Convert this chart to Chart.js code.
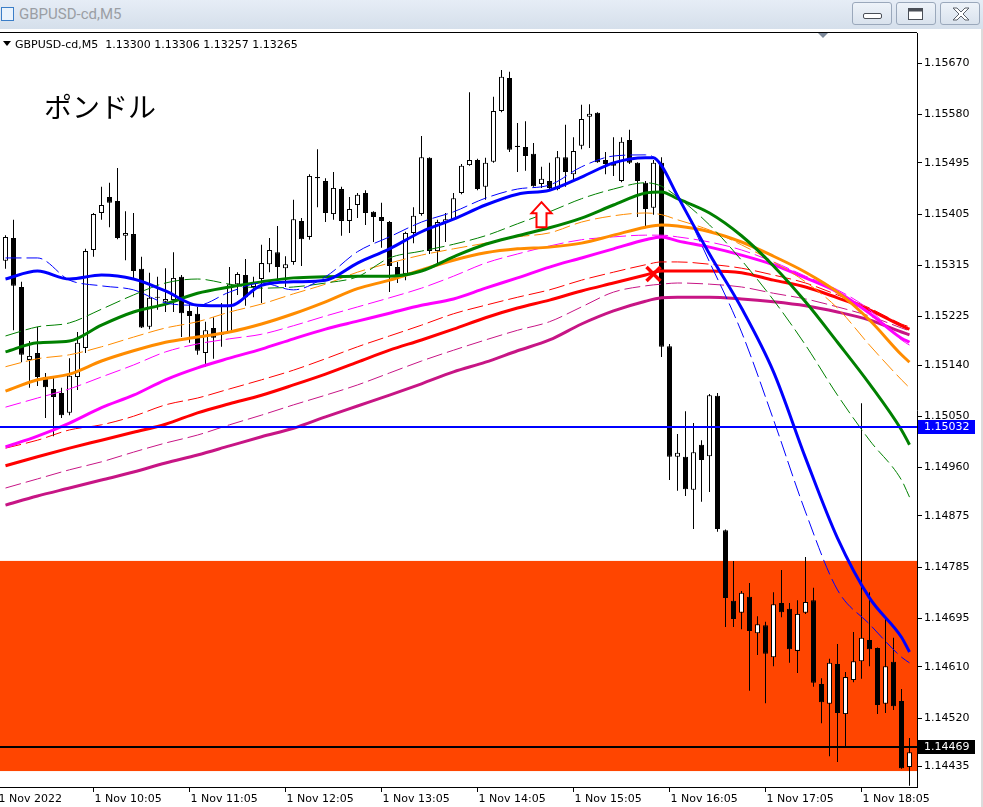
<!DOCTYPE html>
<html>
<head>
<meta charset="utf-8">
<script src="https://cdn.jsdelivr.net/npm/chart.js@4.4.0/dist/chart.umd.min.js"></script>
<style>
  body { margin: 0; width: 983px; height: 807px; overflow: hidden; background: #fff; position: relative; font-family: "DejaVu Sans", sans-serif; }
  #titlebar { position: absolute; left: 0; top: 0; width: 983px; height: 29px; background: linear-gradient(#e6edf6, #d5dfeb); }
  #appicon { position: absolute; left: 1px; top: 7px; width: 11px; height: 12px; border: 1px solid #3b7ec8; background: #eaf3fc; }
  #title { position: absolute; left: 19px; top: 5px; font: 15px Roboto, sans-serif; color: #9a9ea4; }
  .btn { position: absolute; top: 2px; width: 40px; height: 23px; border: 1px solid #9aa8bb; border-radius: 3px; background: linear-gradient(#eef3f9, #d9e2ed); box-sizing: border-box; }
  .btn svg { position: absolute; left: 0; top: 0; }
  #chartbox { position: absolute; left: 0; top: 32px; width: 983px; height: 775px; }
  #header { position: absolute; left: 15px; top: 38px; font: 11px "DejaVu Sans", sans-serif; color: #000; white-space: pre; z-index: 2; }
  #hdrtri { position: absolute; left: 3px; top: 41px; width: 0; height: 0; border-left: 4px solid transparent; border-right: 4px solid transparent; border-top: 5px solid #000; z-index: 2; }
  #shifttri { position: absolute; left: 818px; top: 33px; width: 0; height: 0; border-left: 5px solid transparent; border-right: 5px solid transparent; border-top: 5px solid #7d8a9b; z-index: 2; }
  #note { position: absolute; left: 44px; top: 86px; font: 28px "Noto Sans CJK JP", sans-serif; color: #000; z-index: 2; }
  #edge { position: absolute; left: 981px; top: 29px; width: 2px; height: 778px; background: #dcdcdc; z-index: 2; }
</style>
</head>
<body>
<div id="titlebar">
  <div id="appicon"></div>
  <span id="title">GBPUSD-cd,M5</span>
  <div class="btn" style="left:852px"><svg width="40" height="23"><rect x="10.5" y="10.5" width="18" height="5" rx="1.5" fill="#fff" stroke="#4a4f57"/></svg></div>
  <div class="btn" style="left:896px"><svg width="40" height="23"><rect x="11.5" y="5.5" width="14" height="11" fill="#fff" stroke="#4a4f57"/><rect x="11.5" y="5.5" width="14" height="3" fill="#4a4f57"/></svg></div>
  <div class="btn" style="left:940px"><svg width="40" height="23"><path d="M12 5 L16 5 L20 9 L24 5 L28 5 L22 11 L28 17 L24 17 L20 13 L16 17 L12 17 L18 11 Z" fill="#fff" stroke="#5a6069" stroke-width="1"/></svg></div>
</div>
<div id="edge"></div>
<div id="hdrtri"></div>
<div id="header">GBPUSD-cd,M5  1.13300 1.13306 1.13257 1.13265</div>
<div id="shifttri"></div>
<div id="note">ポンドル</div>
<div id="chartbox"><canvas id="chart"></canvas></div>

<script>
// Candles (5 min bars, index 0 = 1 Nov 09:10)
const candleOpen = [
  1.15323, 1.15363, 1.15277, 1.15149, 1.15161, 1.15119, 1.15098, 1.15091, 1.15056, 1.15119,
  1.15170, 1.15342, 1.15407, 1.15435, 1.15428, 1.15367, 1.15370, 1.15309, 1.15207, 1.15260,
  1.15251, 1.15254, 1.15295, 1.15235, 1.15230, 1.15161, 1.15205, 1.15193, 1.15198, 1.15282,
  1.15298, 1.15277, 1.15291, 1.15317, 1.15338, 1.15310, 1.15321, 1.15393, 1.15365, 1.15470,
  1.15463, 1.15405, 1.15449, 1.15393, 1.15421, 1.15442, 1.15409, 1.15400, 1.15391, 1.15312,
  1.15300, 1.15372, 1.15405, 1.15504, 1.15340, 1.15391, 1.15396, 1.15442, 1.15491, 1.15500,
  1.15453, 1.15497, 1.15586, 1.15644, 1.15525, 1.15523, 1.15511, 1.15458, 1.15463, 1.15449,
  1.15505, 1.15475, 1.15525, 1.15576, 1.15583, 1.15500, 1.15495, 1.15463, 1.15535, 1.15495,
  1.15460, 1.15416, 1.15495, 1.15173, 1.14979, 1.14979, 1.14921, 1.15000, 1.14980, 1.15086,
  1.14850, 1.14726, 1.14705, 1.14733, 1.14669, 1.14683, 1.14627, 1.14722, 1.14712, 1.14638,
  1.14705, 1.14727, 1.14580, 1.14545, 1.14615, 1.14527, 1.14587, 1.14620, 1.14657, 1.14643,
  1.14545, 1.14619, 1.14550, 1.14434
];
const candleHigh = [
  1.15368, 1.15395, 1.15286, 1.15182, 1.15207, 1.15126, 1.15117, 1.15100, 1.15152, 1.15198,
  1.15344, 1.15407, 1.15453, 1.15460, 1.15486, 1.15410, 1.15407, 1.15330, 1.15302, 1.15295,
  1.15310, 1.15338, 1.15298, 1.15249, 1.15242, 1.15216, 1.15224, 1.15249, 1.15312, 1.15303,
  1.15326, 1.15295, 1.15351, 1.15363, 1.15384, 1.15331, 1.15430, 1.15398, 1.15475, 1.15519,
  1.15468, 1.15479, 1.15453, 1.15435, 1.15442, 1.15447, 1.15410, 1.15425, 1.15393, 1.15321,
  1.15374, 1.15417, 1.15542, 1.15505, 1.15395, 1.15407, 1.15442, 1.15493, 1.15619, 1.15502,
  1.15504, 1.15611, 1.15658, 1.15655, 1.15565, 1.15568, 1.15530, 1.15488, 1.15495, 1.15516,
  1.15562, 1.15540, 1.15597, 1.15598, 1.15584, 1.15514, 1.15540, 1.15540, 1.15553, 1.15496,
  1.15463, 1.15500, 1.15505, 1.15177, 1.15019, 1.15059, 1.15038, 1.15008, 1.15089, 1.15091,
  1.14851, 1.14796, 1.14743, 1.14757, 1.14699, 1.14689, 1.14741, 1.14780, 1.14722, 1.14727,
  1.14803, 1.14749, 1.14590, 1.14624, 1.14650, 1.14601, 1.14671, 1.15073, 1.14741, 1.14644,
  1.14699, 1.14661, 1.14571, 1.14485
];
const candleLow = [
  1.15309, 1.15201, 1.15145, 1.15100, 1.15103, 1.15047, 1.15015, 1.15047, 1.15052, 1.15096,
  1.15161, 1.15330, 1.15395, 1.15382, 1.15361, 1.15324, 1.15293, 1.15205, 1.15203, 1.15237,
  1.15233, 1.15233, 1.15189, 1.15179, 1.15158, 1.15137, 1.15151, 1.15172, 1.15196, 1.15263,
  1.15244, 1.15259, 1.15249, 1.15303, 1.15291, 1.15277, 1.15316, 1.15314, 1.15360, 1.15417,
  1.15391, 1.15395, 1.15367, 1.15372, 1.15398, 1.15386, 1.15356, 1.15346, 1.15268, 1.15284,
  1.15289, 1.15354, 1.15402, 1.15335, 1.15316, 1.15356, 1.15395, 1.15440, 1.15490, 1.15447,
  1.15430, 1.15495, 1.15584, 1.15514, 1.15479, 1.15481, 1.15453, 1.15451, 1.15449, 1.15447,
  1.15453, 1.15465, 1.15519, 1.15521, 1.15495, 1.15475, 1.15472, 1.15461, 1.15493, 1.15400,
  1.15382, 1.15404, 1.15154, 1.14938, 1.14919, 1.14910, 1.14852, 1.14900, 1.14917, 1.14847,
  1.14680, 1.14680, 1.14676, 1.14568, 1.14631, 1.14546, 1.14611, 1.14697, 1.14617, 1.14599,
  1.14703, 1.14575, 1.14511, 1.14453, 1.14443, 1.14471, 1.14583, 1.14589, 1.14611, 1.14527,
  1.14529, 1.14534, 1.14431, 1.14401
];
const candleClose = [
  1.15365, 1.15279, 1.15158, 1.15156, 1.15119, 1.15101, 1.15084, 1.15052, 1.15121, 1.15179,
  1.15340, 1.15405, 1.15421, 1.15425, 1.15363, 1.15372, 1.15305, 1.15206, 1.15258, 1.15258,
  1.15256, 1.15293, 1.15231, 1.15226, 1.15165, 1.15201, 1.15188, 1.15196, 1.15282, 1.15300,
  1.15259, 1.15286, 1.15319, 1.15342, 1.15312, 1.15317, 1.15396, 1.15361, 1.15472, 1.15468,
  1.15407, 1.15451, 1.15393, 1.15414, 1.15439, 1.15407, 1.15400, 1.15393, 1.15314, 1.15298,
  1.15372, 1.15402, 1.15505, 1.15340, 1.15391, 1.15396, 1.15433, 1.15490, 1.15500, 1.15449,
  1.15495, 1.15586, 1.15646, 1.15518, 1.15523, 1.15507, 1.15454, 1.15467, 1.15451, 1.15505,
  1.15479, 1.15516, 1.15572, 1.15581, 1.15496, 1.15493, 1.15490, 1.15532, 1.15495, 1.15463,
  1.15414, 1.15495, 1.15172, 1.14979, 1.14986, 1.14922, 1.14987, 1.14973, 1.15087, 1.14852,
  1.14731, 1.14694, 1.14740, 1.14673, 1.14685, 1.14633, 1.14720, 1.14706, 1.14641, 1.14703,
  1.14724, 1.14582, 1.14548, 1.14617, 1.14529, 1.14592, 1.14620, 1.14661, 1.14641, 1.14543,
  1.14611, 1.14541, 1.14432, 1.14460
];

// axis labels
const timeTickBars = [-1, 11, 23, 35, 47, 59, 71, 83, 95, 107];
const timeTickLabels = ['1 Nov 2022', '1 Nov 10:05', '1 Nov 11:05', '1 Nov 12:05', '1 Nov 13:05',
  '1 Nov 14:05', '1 Nov 15:05', '1 Nov 16:05', '1 Nov 17:05', '1 Nov 18:05'];
const priceTicks = [1.15670, 1.15580, 1.15495, 1.15405, 1.15315, 1.15225, 1.15140, 1.15050,
  1.14960, 1.14875, 1.14785, 1.14695, 1.14610, 1.14520, 1.14435];

// moving averages, read at these bars
const maBars = [0, 4, 8, 12, 16, 20, 24, 28, 32, 36, 40, 44, 48, 52, 56, 60, 64, 68, 72, 76,
  80, 82, 84, 88, 92, 96, 100, 104, 108, 112, 113];
const greenMA = [1.15163, 1.15179, 1.15182, 1.15210, 1.15233, 1.15247, 1.15266, 1.15277, 1.15286, 1.15293,
  1.15295, 1.15296, 1.15296, 1.15305, 1.15330, 1.15352, 1.15367, 1.15381, 1.15398, 1.15421,
  1.15442, 1.15444, 1.15432, 1.15407, 1.15367, 1.15314, 1.15251, 1.15180, 1.15107, 1.15026, 1.15000];
const greenMA2 = [1.15191, 1.15207, 1.15214, 1.15238, 1.15263, 1.15284, 1.15291, 1.15282, 1.15275, 1.15277,
  1.15284, 1.15295, 1.15328, 1.15340, 1.15352, 1.15367, 1.15388, 1.15409, 1.15432, 1.15449,
  1.15460, 1.15454, 1.15435, 1.15386, 1.15324, 1.15254, 1.15175, 1.15087, 1.15008, 1.14938, 1.14908];
const orangeMA = [1.15094, 1.15114, 1.15124, 1.15147, 1.15165, 1.15180, 1.15189, 1.15198, 1.15212, 1.15230,
  1.15251, 1.15274, 1.15289, 1.15307, 1.15324, 1.15337, 1.15344, 1.15347, 1.15354, 1.15368,
  1.15382, 1.15386, 1.15384, 1.15374, 1.15356, 1.15331, 1.15303, 1.15268, 1.15219, 1.15158, 1.15145];
const orangeMA2 = [1.15137, 1.15151, 1.15158, 1.15172, 1.15189, 1.15205, 1.15216, 1.15233, 1.15247, 1.15265,
  1.15282, 1.15303, 1.15319, 1.15333, 1.15344, 1.15354, 1.15365, 1.15372, 1.15391, 1.15402,
  1.15407, 1.15404, 1.15395, 1.15377, 1.15351, 1.15321, 1.15286, 1.15240, 1.15175, 1.15114, 1.15100];
const magentaMA = [1.14996, 1.15015, 1.15038, 1.15065, 1.15087, 1.15114, 1.15135, 1.15152, 1.15168, 1.15186,
  1.15203, 1.15217, 1.15231, 1.15245, 1.15256, 1.15275, 1.15293, 1.15312, 1.15328, 1.15344,
  1.15360, 1.15365, 1.15358, 1.15347, 1.15333, 1.15316, 1.15293, 1.15268, 1.15231, 1.15187, 1.15180];
const magentaMA2 = [1.15066, 1.15082, 1.15098, 1.15119, 1.15140, 1.15163, 1.15177, 1.15186, 1.15194, 1.15209,
  1.15226, 1.15242, 1.15258, 1.15275, 1.15296, 1.15319, 1.15335, 1.15349, 1.15360, 1.15365,
  1.15368, 1.15368, 1.15365, 1.15356, 1.15342, 1.15321, 1.15296, 1.15272, 1.15237, 1.15184, 1.15175];
const redMA = [1.14963, 1.14979, 1.14994, 1.15008, 1.15022, 1.15036, 1.15056, 1.15072, 1.15087, 1.15105,
  1.15124, 1.15145, 1.15166, 1.15184, 1.15203, 1.15223, 1.15240, 1.15254, 1.15270, 1.15284,
  1.15298, 1.15305, 1.15305, 1.15305, 1.15302, 1.15289, 1.15277, 1.15258, 1.15237, 1.15209, 1.15203];
const redMA2 = [1.14994, 1.15008, 1.15026, 1.15035, 1.15050, 1.15070, 1.15082, 1.15098, 1.15114, 1.15131,
  1.15151, 1.15172, 1.15191, 1.15210, 1.15230, 1.15245, 1.15259, 1.15272, 1.15289, 1.15303,
  1.15316, 1.15321, 1.15321, 1.15317, 1.15310, 1.15298, 1.15284, 1.15263, 1.15240, 1.15212, 1.15207];
const purpleMA = [1.14894, 1.14910, 1.14924, 1.14938, 1.14952, 1.14968, 1.14982, 1.14998, 1.15014, 1.15029,
  1.15049, 1.15068, 1.15087, 1.15107, 1.15128, 1.15145, 1.15165, 1.15184, 1.15212, 1.15235,
  1.15252, 1.15258, 1.15259, 1.15259, 1.15256, 1.15251, 1.15244, 1.15233, 1.15219, 1.15198, 1.15193];
const purpleMA2 = [1.14924, 1.14940, 1.14956, 1.14970, 1.14987, 1.15003, 1.15017, 1.15035, 1.15052, 1.15070,
  1.15087, 1.15105, 1.15126, 1.15147, 1.15166, 1.15184, 1.15201, 1.15216, 1.15242, 1.15268,
  1.15279, 1.15282, 1.15284, 1.15282, 1.15277, 1.15266, 1.15256, 1.15242, 1.15226, 1.15205, 1.15200];

const blueBars = [0, 4, 8, 12, 16, 20, 24, 28, 32, 36, 40, 44, 48, 52, 56, 60, 64, 68, 72, 76,
  80, 81, 82, 84, 88, 92, 96, 100, 104, 108, 112, 113];
const blueMA = [1.15291, 1.15305, 1.15291, 1.15298, 1.15291, 1.15270, 1.15245, 1.15244, 1.15280, 1.15286,
  1.15289, 1.15319, 1.15344, 1.15374, 1.15396, 1.15421, 1.15440, 1.15447, 1.15470, 1.15495,
  1.15504, 1.15504, 1.15490, 1.15437, 1.15335, 1.15240, 1.15128, 1.14977, 1.14836, 1.14731, 1.14662, 1.14636];
const blueMA2 = [1.15328, 1.15328, 1.15289, 1.15279, 1.15272, 1.15249, 1.15245, 1.15268, 1.15284, 1.15272,
  1.15295, 1.15339, 1.15365, 1.15391, 1.15409, 1.15433, 1.15449, 1.15456, 1.15488, 1.15507,
  1.15509, 1.15505, 1.15488, 1.15439, 1.15321, 1.15198, 1.15044, 1.14882, 1.14745, 1.14685, 1.14627, 1.14617];

// objects on the chart
const zoneTop = 1.14796;
const zoneBottom = 1.14427;
const blueLevel = 1.15032;
const bidLevel = 1.14469;
const arrowBar = 67, arrowPrice = 1.15426;
const crossBar = 81, crossPrice = 1.15300;

Chart.defaults.font.family = '"DejaVu Sans", sans-serif';
Chart.defaults.font.size = 11;
Chart.defaults.color = '#000';

function lineSet(bars, values, color, width, dash) {
  return {
    type: 'line',
    data: bars.map((b, i) => ({ x: b, y: values[i] })),
    borderColor: color,
    borderWidth: width,
    borderDash: dash || [],
    pointRadius: 0,
    fill: false,
    cubicInterpolationMode: 'monotone',
    order: 0
  };
}

const dash = [16, 5];
const barIdx = candleOpen.map((_, i) => i);

const overlays = {
  id: 'overlays',
  beforeDatasetsDraw(chart) {
    const { ctx, chartArea, scales: { y } } = chart;
    const t = y.getPixelForValue(zoneTop), b = y.getPixelForValue(zoneBottom);
    ctx.save();
    ctx.fillStyle = '#FF4500';
    ctx.fillRect(chartArea.left, t, chartArea.right - chartArea.left, b - t);
    ctx.restore();
  },
  afterDatasetsDraw(chart) {
    const { ctx, chartArea, scales: { x, y } } = chart;
    ctx.save();
    // horizontal lines
    [[blueLevel, '#0000FF'], [bidLevel, '#000000']].forEach(([v, c]) => {
      const py = Math.round(y.getPixelForValue(v));
      ctx.fillStyle = c;
      ctx.fillRect(chartArea.left, py - 1, chartArea.right - chartArea.left, 2);
    });
    // up arrow
    const ax = x.getPixelForValue(arrowBar), ay = y.getPixelForValue(arrowPrice);
    ctx.beginPath();
    ctx.moveTo(ax, ay);
    ctx.lineTo(ax + 10, ay + 11);
    ctx.lineTo(ax + 5, ay + 11);
    ctx.lineTo(ax + 5, ay + 25);
    ctx.lineTo(ax - 5, ay + 25);
    ctx.lineTo(ax - 5, ay + 11);
    ctx.lineTo(ax - 10, ay + 11);
    ctx.closePath();
    ctx.fillStyle = '#fff';
    ctx.fill();
    ctx.strokeStyle = '#FF0000';
    ctx.lineWidth = 2;
    ctx.stroke();
    // cross
    const cx = x.getPixelForValue(crossBar), cy = y.getPixelForValue(crossPrice);
    ctx.beginPath();
    ctx.moveTo(cx - 7, cy - 7); ctx.lineTo(cx + 7, cy + 7);
    ctx.moveTo(cx + 7, cy - 7); ctx.lineTo(cx - 7, cy + 7);
    ctx.strokeStyle = '#FF0000';
    ctx.lineWidth = 3.5;
    ctx.stroke();
    ctx.restore();
  },
  afterDraw(chart) {
    const { ctx, chartArea, scales: { y } } = chart;
    ctx.save();
    // frame top
    ctx.fillStyle = '#000';
    ctx.fillRect(chartArea.left, chartArea.top - 1, chartArea.right - chartArea.left, 1);
    // price labels
    [[blueLevel, '#0000FF'], [bidLevel, '#000000']].forEach(([v, c]) => {
      const py = Math.round(y.getPixelForValue(v));
      ctx.fillStyle = c;
      ctx.fillRect(chartArea.right + 1, py - 7, 57, 14);
      ctx.fillStyle = '#fff';
      ctx.font = '11px "DejaVu Sans"';
      ctx.textBaseline = 'middle';
      ctx.fillText(v.toFixed(5), chartArea.right + 7, py);
    });
    ctx.restore();
  }
};

new Chart(document.getElementById('chart'), {
  type: 'bar',
  data: {
    datasets: [
      lineSet(blueBars, blueMA, '#0000FF', 3),
      lineSet(blueBars, blueMA2, '#0000FF', 1, dash),
      lineSet(maBars, greenMA, '#008000', 3),
      lineSet(maBars, greenMA2, '#008000', 1, dash),
      lineSet(maBars, orangeMA, '#FF8C00', 3),
      lineSet(maBars, orangeMA2, '#FF8C00', 1, dash),
      lineSet(maBars, magentaMA, '#FF00FF', 3),
      lineSet(maBars, magentaMA2, '#FF00FF', 1, dash),
      lineSet(maBars, redMA, '#FF0000', 3),
      lineSet(maBars, redMA2, '#FF0000', 1, dash),
      lineSet(maBars, purpleMA, '#C71585', 3),
      lineSet(maBars, purpleMA2, '#C71585', 1, dash),
      {
        type: 'bar',
        data: barIdx.map(i => ({ x: i, y: [candleOpen[i], candleClose[i]] })),
        backgroundColor: barIdx.map(i => candleClose[i] >= candleOpen[i] ? '#fff' : '#000'),
        borderColor: '#000',
        borderWidth: 1,
        borderSkipped: false,
        barThickness: 5,
        grouped: false,
        inflateAmount: 0,
        order: 1
      },
      {
        type: 'bar',
        data: barIdx.map(i => ({ x: i, y: [candleLow[i], candleHigh[i]] })),
        backgroundColor: '#000',
        borderWidth: 0,
        barThickness: 1,
        grouped: false,
        inflateAmount: 0,
        order: 2
      }
    ]
  },
  options: {
    responsive: true,
    maintainAspectRatio: false,
    animation: false,
    events: [],
    layout: { padding: { top: 1, left: 0, right: 0, bottom: 0 } },
    plugins: { legend: { display: false }, tooltip: { enabled: false } },
    scales: {
      x: {
        type: 'linear',
        position: 'bottom',
        min: -0.6875,
        max: 113.9375,
        offset: false,
        bounds: 'data',
        grid: { display: true, drawOnChartArea: false, drawTicks: true, tickLength: 5, color: '#000', offset: false },
        border: { display: true, color: '#000', width: 1 },
        ticks: {
          autoSkip: false, maxRotation: 0, minRotation: 0, align: 'start', labelOffset: 1, padding: 1,
          callback: (v) => timeTickLabels[timeTickBars.indexOf(v)]
        },
        afterBuildTicks: (s) => { s.ticks = timeTickBars.map(v => ({ value: v })); },
        afterFit: (s) => { s.height = 20; s.paddingLeft = 0; s.paddingRight = 0; }
      },
      y: {
        type: 'linear',
        position: 'right',
        min: 1.14399,
        max: 1.15723,
        bounds: 'data',
        grid: { display: true, drawOnChartArea: false, drawTicks: true, tickLength: 5, color: '#000' },
        border: { display: true, color: '#000', width: 1 },
        ticks: { padding: 2, callback: (v) => v.toFixed(5) },
        afterBuildTicks: (s) => { s.ticks = priceTicks.map(v => ({ value: v })); },
        afterFit: (s) => { s.width = 66; s.paddingTop = 0; s.paddingBottom = 0; }
      }
    }
  },
  plugins: [overlays]
});
</script>
</body>
</html>
